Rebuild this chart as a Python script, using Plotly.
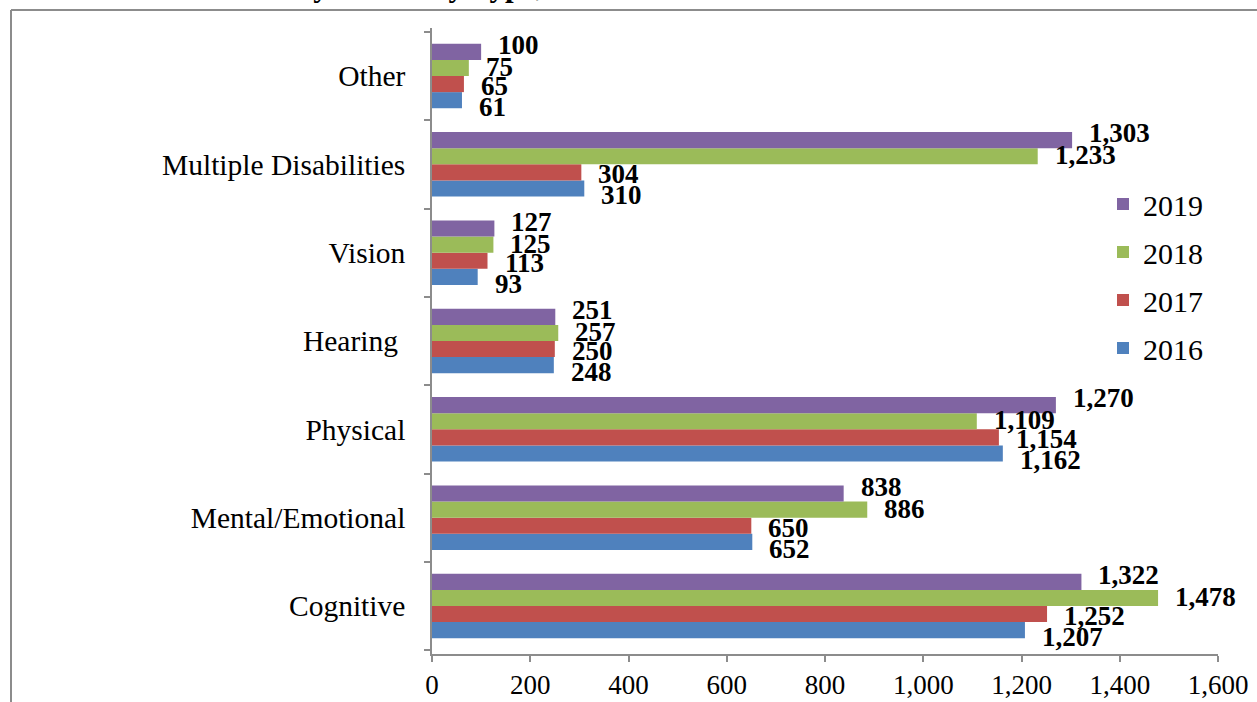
import plotly.graph_objects as go

categories = ["Cognitive", "Mental/Emotional", "Physical", "Hearing ", "Vision",
              "Multiple Disabilities", "Other"]
years = ["2016", "2017", "2018", "2019"]
values_2016 = [1207, 652, 1162, 248, 93, 310, 61]
values_2017 = [1252, 650, 1154, 250, 113, 304, 65]
values_2018 = [1478, 886, 1109, 257, 125, 1233, 75]
values_2019 = [1322, 838, 1270, 251, 127, 1303, 100]
colors = ["#4F81BD", "#C0504D", "#9BBB59", "#8064A2"]
x_ticks = [0, 200, 400, 600, 800, 1000, 1200, 1400, 1600]

series = [values_2016, values_2017, values_2018, values_2019]
label_yshift = [-31, -10, 9, 31]
FONT = "Liberation Serif, Times New Roman, serif"

fig = go.Figure()
for i, (yr, vals, col) in enumerate(zip(years, series, colors)):
    fig.add_trace(go.Bar(
        y=categories, x=vals, name=yr, orientation="h",
        marker=dict(color=col, line=dict(width=0)),
        legendgroup=yr, legendrank=len(years) - i,
    ))

annotations = []
for vals, ys in zip(series, label_yshift):
    for cat, v in zip(categories, vals):
        annotations.append(dict(
            x=v, y=cat, xref="x", yref="y", text=f"{v:,}", showarrow=False,
            xanchor="left", yanchor="middle", xshift=15, yshift=ys,
            font=dict(family=FONT, size=27, color="black", weight="bold"),
        ))

# partially cropped title at the very top
annotations.append(dict(
    x=(294 - 432) / 786, y=(654 - 5) / 626, xref="paper", yref="paper",
    text="<b>by Disability Type,</b>", showarrow=False,
    xanchor="left", yanchor="bottom",
    font=dict(family=FONT, size=31, color="black"),
))

fig.update_layout(
    width=1257, height=702,
    margin=dict(l=432, r=39, t=28, b=48, autoexpand=False),
    paper_bgcolor="white", plot_bgcolor="white",
    barmode="group", bargap=0.27, bargroupgap=0,
    font=dict(family=FONT, size=28, color="black"),
    showlegend=True,
    legend=dict(
        x=(1103 - 432) / 786, y=(654 - 276) / 626, xanchor="left", yanchor="middle",
        traceorder="grouped", tracegroupgap=6,
        font=dict(family=FONT, size=30, color="black"),
        bgcolor="rgba(0,0,0,0)",
    ),
    xaxis=dict(
        range=[0, 1600], tickvals=x_ticks, tickformat=",d",
        showgrid=False, zeroline=False, automargin=False,
        showline=True, linecolor="#8C8C8C", linewidth=1.5,
        ticks="outside", ticklen=6, tickcolor="#8C8C8C", tickwidth=1.5,
        tickfont=dict(family=FONT, size=27, color="black"),
    ),
    yaxis=dict(
        categoryorder="array", categoryarray=categories,
        showgrid=False, zeroline=False, automargin=False,
        showline=True, linecolor="#8C8C8C", linewidth=1.5,
        ticks="outside", ticklen=6, tickcolor="#8C8C8C", tickwidth=1.5,
        tickson="boundaries", ticklabelstandoff=19,
        tickfont=dict(family=FONT, size=29.5, color="black"),
    ),
    annotations=annotations,
    shapes=[
        dict(type="line", xref="paper", yref="paper",
             x0=(11 - 432) / 786, x1=(1260 - 432) / 786,
             y0=(654 - 10) / 626, y1=(654 - 10) / 626,
             line=dict(color="#8C8C8C", width=2)),
        dict(type="line", xref="paper", yref="paper",
             x0=(11 - 432) / 786, x1=(11 - 432) / 786,
             y0=(654 - 10) / 626, y1=(654 - 710) / 626,
             line=dict(color="#8C8C8C", width=2)),
    ],
)

fig.write_html("out.html", config={"displayModeBar": False},
               post_script="document.body.style.margin='0px';")
